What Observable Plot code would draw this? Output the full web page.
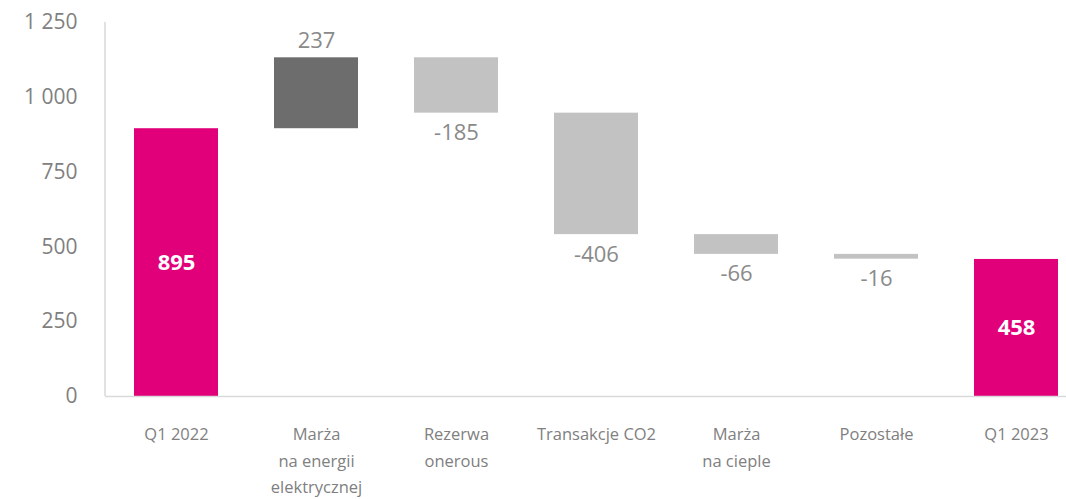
<!DOCTYPE html>
<html>
<head>
<meta charset="utf-8">
<script src="https://cdn.jsdelivr.net/npm/d3@7"></script>
<script src="https://cdn.jsdelivr.net/npm/@observablehq/plot@0.6"></script>
<style>
  html, body { margin: 0; padding: 0; background: #fff; }
  #chart { width: 1066px; height: 499px; }
</style>
</head>
<body>
<div id="chart"></div>
<script>
const categories = ["Q1 2022", "Marża\nna energii\nelektrycznej", "Rezerwa\nonerous", "Transakcje CO2", "Marża\nna cieple", "Pozostałe", "Q1 2023"];
const values = [895, 237, -185, -406, -66, -16, 458];
const kinds = ["total", "delta", "delta", "delta", "delta", "delta", "total"];
const yTicks = [0, 250, 500, 750, 1000, 1250];

const PINK = "#e2007a", DARK = "#6d6d6d", LIGHT = "#c2c2c2", GRAY = "#8a8a8a", AXIS = "#d9d9d9";

let running = 0;
const rows = categories.map((c, i) => {
  const v = values[i];
  let y1, y2;
  if (kinds[i] === "total") { y1 = 0; y2 = v; running = v; }
  else { y1 = running; y2 = running + v; running = y2; }
  const fill = kinds[i] === "total" ? PINK : (v >= 0 ? DARK : LIGHT);
  return {cat: c, value: v, kind: kinds[i], y1, y2, fill};
});

const locale = d3.formatLocale({decimal: ",", thousands: " ", grouping: [3], currency: ["", ""]});
const fmt = locale.format(",");

const font = "'Open Sans', sans-serif";

const yAxisLine = (index, scales, values, dims) => {
  return d3.create("svg:line")
    .attr("x1", dims.marginLeft).attr("x2", dims.marginLeft)
    .attr("y1", dims.marginTop).attr("y2", dims.height - dims.marginBottom)
    .attr("stroke", AXIS).attr("stroke-width", 1.5)
    .node();
};

const chart = Plot.plot({
  width: 1066,
  height: 499,
  marginLeft: 105,
  marginRight: 0,
  marginTop: 22,
  marginBottom: 103,
  style: {fontFamily: font, color: "#808080", background: "#fff"},
  x: {domain: categories, range: [105, 1087], paddingInner: 0.4, paddingOuter: 0.2, label: null},
  y: {domain: [0, 1250], label: null},
  marks: [
    Plot.axisY({ticks: yTicks, tickSize: 0, tickPadding: 28, tickFormat: fmt, fontSize: 21, fill: "#808080", label: null}),
    Plot.axisX({tickSize: 0, tickPadding: 25, fontSize: 16.5, lineHeight: 1.6, fill: "#808080", label: null}),
    Plot.barY(rows, {x: "cat", y1: "y1", y2: "y2", fill: "fill"}),
    Plot.ruleY([0], {stroke: AXIS, strokeWidth: 1.5}),
    yAxisLine,
    Plot.text(rows.filter(d => d.kind === "total"), {
      x: "cat", y: d => (d.y1 + d.y2) / 2, text: d => String(d.value),
      fill: "#fff", fontWeight: "bold", fontSize: 22
    }),
    Plot.text(rows.filter(d => d.kind === "delta" && d.value >= 0), {
      x: "cat", y: "y2", text: d => String(d.value), dy: -17, fill: GRAY, fontSize: 22
    }),
    Plot.text(rows.filter(d => d.kind === "delta" && d.value < 0), {
      x: "cat", y: "y2", text: d => String(d.value), dy: 20, fill: GRAY, fontSize: 22
    })
  ]
});

document.getElementById("chart").appendChild(chart);
</script>
</body>
</html>
